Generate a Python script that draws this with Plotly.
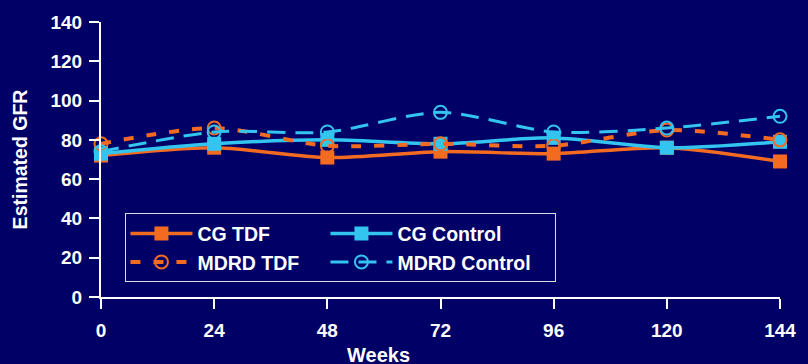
import plotly.graph_objects as go

# Estimated GFR over time by formula (CG / MDRD) and study arm
weeks = [0, 24, 48, 72, 96, 120, 144]
cg_tdf = [72, 76, 71, 74, 73, 76, 69]
cg_control = [73, 78, 80, 78, 81, 76, 79]
mdrd_tdf = [78, 86, 77, 78, 77, 85, 80]
mdrd_control = [74, 84, 84, 94, 84, 86, 92]

x_ticks = [0, 24, 48, 72, 96, 120, 144]
y_ticks = [0, 20, 40, 60, 80, 100, 120, 140]

NAVY = "#000066"
ORANGE = "#F26B21"
BLUE = "#33C4F0"
FONT = "Liberation Sans"
TICK_FONT = dict(family=FONT, size=19, color="white", weight="bold")

fig = go.Figure()

fig.add_trace(go.Scatter(
    x=weeks, y=cg_tdf, name="CG TDF", legendgroup="tdf", legendwidth=123,
    mode="lines+markers", line=dict(color=ORANGE, width=3.5, shape="spline", smoothing=0.8),
    marker=dict(symbol="square", size=14, color=ORANGE),
))
fig.add_trace(go.Scatter(
    x=weeks, y=cg_control, name="CG Control", legendgroup="control", legendwidth=153,
    mode="lines+markers", line=dict(color=BLUE, width=3.5, shape="spline", smoothing=0.8),
    marker=dict(symbol="square", size=14, color=BLUE),
))
fig.add_trace(go.Scatter(
    x=weeks, y=mdrd_tdf, name="MDRD TDF", legendgroup="tdf", legendwidth=123,
    mode="lines+markers",
    line=dict(color=ORANGE, width=4, dash="10px,13px", shape="spline", smoothing=0.8),
    marker=dict(symbol="circle-open", size=13, color=ORANGE, line=dict(width=2)),
))
fig.add_trace(go.Scatter(
    x=weeks, y=mdrd_control, name="MDRD Control", legendgroup="control", legendwidth=153,
    mode="lines+markers",
    line=dict(color=BLUE, width=3, dash="18px,10px", shape="spline", smoothing=0.8),
    marker=dict(symbol="circle-open", size=13, color=BLUE, line=dict(width=2)),
))

fig.update_layout(
    width=808, height=364,
    margin=dict(l=101, r=21, t=21, b=67),
    paper_bgcolor=NAVY, plot_bgcolor=NAVY,
    font=dict(family=FONT, color="white", size=16),
    showlegend=True,
    legend=dict(
        orientation="h", x=0.036, y=0.304, xanchor="left", yanchor="top",
        bgcolor=NAVY, bordercolor="#DDDDDD", borderwidth=1,
        font=dict(family=FONT, size=19.5, color="white", weight="bold"),
        itemwidth=62, entrywidth=123, tracegroupgap=0,
    ),
    xaxis=dict(
        range=[0, 144], tickvals=x_ticks, ticktext=[str(v) for v in x_ticks],
        showgrid=False, zeroline=False, showline=True, linecolor="white", linewidth=2,
        ticks="outside", tickcolor="white", tickwidth=2, ticklen=10,
        ticklabelstandoff=5, tickfont=TICK_FONT,
    ),
    yaxis=dict(
        range=[0, 140], tickvals=y_ticks, ticktext=[str(v) for v in y_ticks],
        showgrid=False, zeroline=False, showline=True, linecolor="white", linewidth=2,
        ticks="outside", tickcolor="white", tickwidth=2, ticklen=10,
        ticklabelstandoff=3, tickfont=TICK_FONT,
        title=dict(text="Estimated GFR", standoff=18,
                   font=dict(family=FONT, size=19.5, color="white", weight="bold")),
    ),
    annotations=[dict(
        text="Weeks", xref="paper", yref="paper", x=0.408, y=-0.163,
        xanchor="center", yanchor="top", showarrow=False,
        font=dict(family=FONT, size=20, color="white", weight="bold"),
    )],
)
fig.update_traces(cliponaxis=False)

fig.write_html("out.html")
